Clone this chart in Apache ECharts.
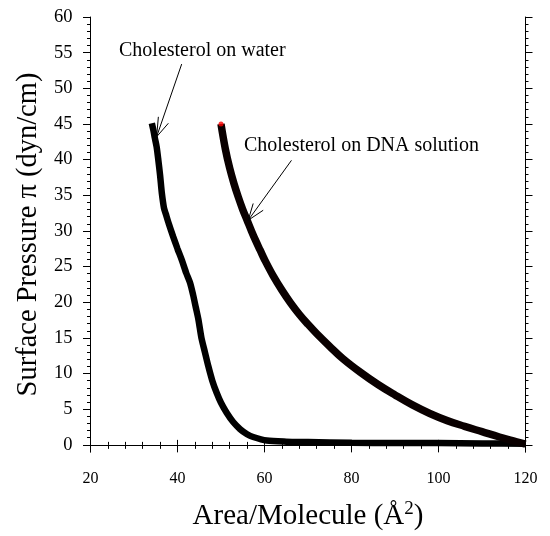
<!DOCTYPE html>
<html>
<head>
<meta charset="utf-8">
<script src="https://cdn.jsdelivr.net/npm/echarts@6/dist/echarts.min.js"></script>
<style>
  html, body { margin: 0; padding: 0; background: #fff; }
  #chart { width: 550px; height: 536px; }
</style>
</head>
<body>
<div id="chart"></div>
<script>
// ---------------------------------------------------
// Data
// ---------------------------------------------------
const waterArea = [34.1, 34.5, 34.8, 35.2, 35.6, 36.0, 36.4, 36.9, 37.3, 38.0, 39.0, 40.0, 41.0, 42.0, 42.9, 43.6, 44.2, 44.8, 45.5, 46.3, 47.1, 48.0, 49.0, 50.0, 51.3, 52.8, 54.4, 56.0, 57.4, 60.5, 65, 70, 80, 90, 100, 110, 120];
const waterPressure = [45.1, 44.0, 43.0, 41.8, 39.9, 37.8, 35.3, 33.2, 32.4, 31.0, 29.2, 27.5, 25.9, 24.1, 22.7, 21.0, 19.3, 17.6, 15.0, 13.0, 11.0, 9.0, 7.3, 5.9, 4.5, 3.2, 2.2, 1.5, 1.1, 0.6, 0.45, 0.4, 0.3, 0.25, 0.25, 0.2, 0.15];

const dnaArea = [50, 51, 52, 53, 54, 55, 56, 57, 58, 59, 60, 62, 64, 66, 68, 70, 72, 75, 78, 82, 86, 90, 94, 98, 102, 106, 110, 114, 117, 120];
const dnaPressure = [45.0, 41.5, 38.8, 36.6, 34.7, 33.0, 31.5, 30.0, 28.6, 27.3, 26.0, 23.7, 21.7, 19.9, 18.3, 16.9, 15.6, 13.8, 12.1, 10.2, 8.5, 7.0, 5.6, 4.4, 3.4, 2.6, 1.85, 1.1, 0.6, 0.1];

const xTicks = [20, 40, 60, 80, 100, 120];
const yTicks = [0, 5, 10, 15, 20, 25, 30, 35, 40, 45, 50, 55, 60];
const yMinorTicks = [];
for (let v = 0; v <= 60; v++) if (v % 5 !== 0) yMinorTicks.push(v);

// annotation labels and arrows, in data units
const noteLabels = [
  { name: "Cholesterol on water", at: [26.55, 55.3] },
  { name: "Cholesterol on DNA solution", at: [55.27, 42.0] }
];
const noteArrows = [
  { tip: [35.2, 43.2], tail: [40.96, 53.4], wingA: [35.6, 46.0], wingB: [37.9, 45.1] },
  { tip: [56.26, 31.5], tail: [66.2, 39.9], wingA: [57.4, 33.85], wingB: [59.7, 32.9] }
];

// ---------------------------------------------------
// Chart
// ---------------------------------------------------
const FONT = "'Liberation Serif', 'Times New Roman', serif";
const chart = echarts.init(document.getElementById("chart"), null, { renderer: "canvas" });

const lineStyleAxis = { show: true, lineStyle: { color: "#000", width: 1 } };

const arrowLines = [];
noteArrows.forEach(a => {
  arrowLines.push([{ coord: a.tail }, { coord: a.tip }]);
  arrowLines.push([{ coord: a.wingA }, { coord: a.tip }]);
  arrowLines.push([{ coord: a.wingB }, { coord: a.tip }]);
});

chart.setOption({
  animation: false,
  backgroundColor: "#fff",
  grid: { left: 90.5, right: 24.5, top: 17, bottom: 83, containLabel: false },
  xAxis: [
    {
      type: "value", position: "bottom", min: 20, max: 120, interval: 20,
      axisLine: lineStyleAxis,
      axisTick: { show: true, length: 7.5, lineStyle: { color: "#000" } },
      minorTick: { show: true, splitNumber: 5, length: 4, lineStyle: { color: "#000" } },
      splitLine: { show: false },
      axisLabel: { fontFamily: FONT, fontSize: 16, color: "#000", margin: 19 },
      name: "Area/Molecule (Å{sup|2})",
      nameLocation: "middle",
      nameGap: 48,
      nameTextStyle: {
        fontFamily: FONT, fontSize: 29, color: "#000",
        rich: { sup: { fontFamily: FONT, fontSize: 19, color: "#000", verticalAlign: "bottom", padding: [0, 0, 14, 0] } }
      }
    },
    {
      type: "value", position: "top", min: 20, max: 120, interval: 20,
      axisLine: lineStyleAxis,
      axisTick: { show: true, length: 5, lineStyle: { color: "#000" } },
      minorTick: { show: true, splitNumber: 5, length: 3, lineStyle: { color: "#000" } },
      splitLine: { show: false },
      axisLabel: { show: false }
    }
  ],
  yAxis: [
    {
      type: "value", position: "left", min: -1, max: 60,
      axisLine: lineStyleAxis,
      axisTick: { show: true, length: 7.5, customValues: yTicks, lineStyle: { color: "#000" } },
      splitLine: { show: false },
      axisLabel: { fontFamily: FONT, fontSize: 18.5, color: "#000", margin: 18, customValues: yTicks },
      name: "Surface Pressure π (dyn/cm)",
      nameLocation: "middle",
      nameGap: 46,
      nameTextStyle: { fontFamily: FONT, fontSize: 28.5, color: "#000" }
    },
    {
      type: "value", position: "left", min: -1, max: 60,
      axisLine: { show: false },
      axisTick: { show: true, length: 3.5, customValues: yMinorTicks, lineStyle: { color: "#000" } },
      splitLine: { show: false },
      axisLabel: { show: false }
    },
    {
      type: "value", position: "right", min: -1, max: 60,
      axisLine: lineStyleAxis,
      axisTick: { show: true, length: 7, customValues: yTicks, lineStyle: { color: "#000" } },
      splitLine: { show: false },
      axisLabel: { show: false }
    },
    {
      type: "value", position: "right", min: -1, max: 60,
      axisLine: { show: false },
      axisTick: { show: true, length: 3, customValues: yMinorTicks, lineStyle: { color: "#000" } },
      splitLine: { show: false },
      axisLabel: { show: false }
    }
  ],
  series: [
    {
      name: "Cholesterol on water",
      type: "line",
      data: waterArea.map((x, i) => [x, waterPressure[i]]),
      showSymbol: false,
      smooth: 0.25,
      lineStyle: { color: "#000", width: 6.5 },
      z: 3,
      markLine: {
        silent: true,
        symbol: ["none", "none"],
        lineStyle: { color: "#000", width: 1, type: "solid" },
        label: { show: false },
        data: arrowLines
      },
      markPoint: {
        silent: true,
        symbol: "circle",
        symbolSize: 0,
        label: {
          show: true, position: "right", distance: 0,
          fontFamily: FONT, fontSize: 20, color: "#000",
          formatter: p => p.name
        },
        data: noteLabels.map(n => ({ name: n.name, coord: n.at }))
      }
    },
    {
      name: "Cholesterol on DNA solution",
      type: "line",
      data: dnaArea.map((x, i) => [x, dnaPressure[i]]),
      showSymbol: false,
      smooth: 0.4,
      lineStyle: { color: "#0a0000", width: 7.5 },
      z: 3
    },
    {
      name: "start",
      type: "scatter",
      data: [[dnaArea[0], dnaPressure[0]]],
      symbol: "circle",
      symbolSize: 5,
      itemStyle: { color: "#ff0000" },
      z: 6
    }
  ]
});

window.addEventListener("resize", chart.resize);
</script>
</body>
</html>
